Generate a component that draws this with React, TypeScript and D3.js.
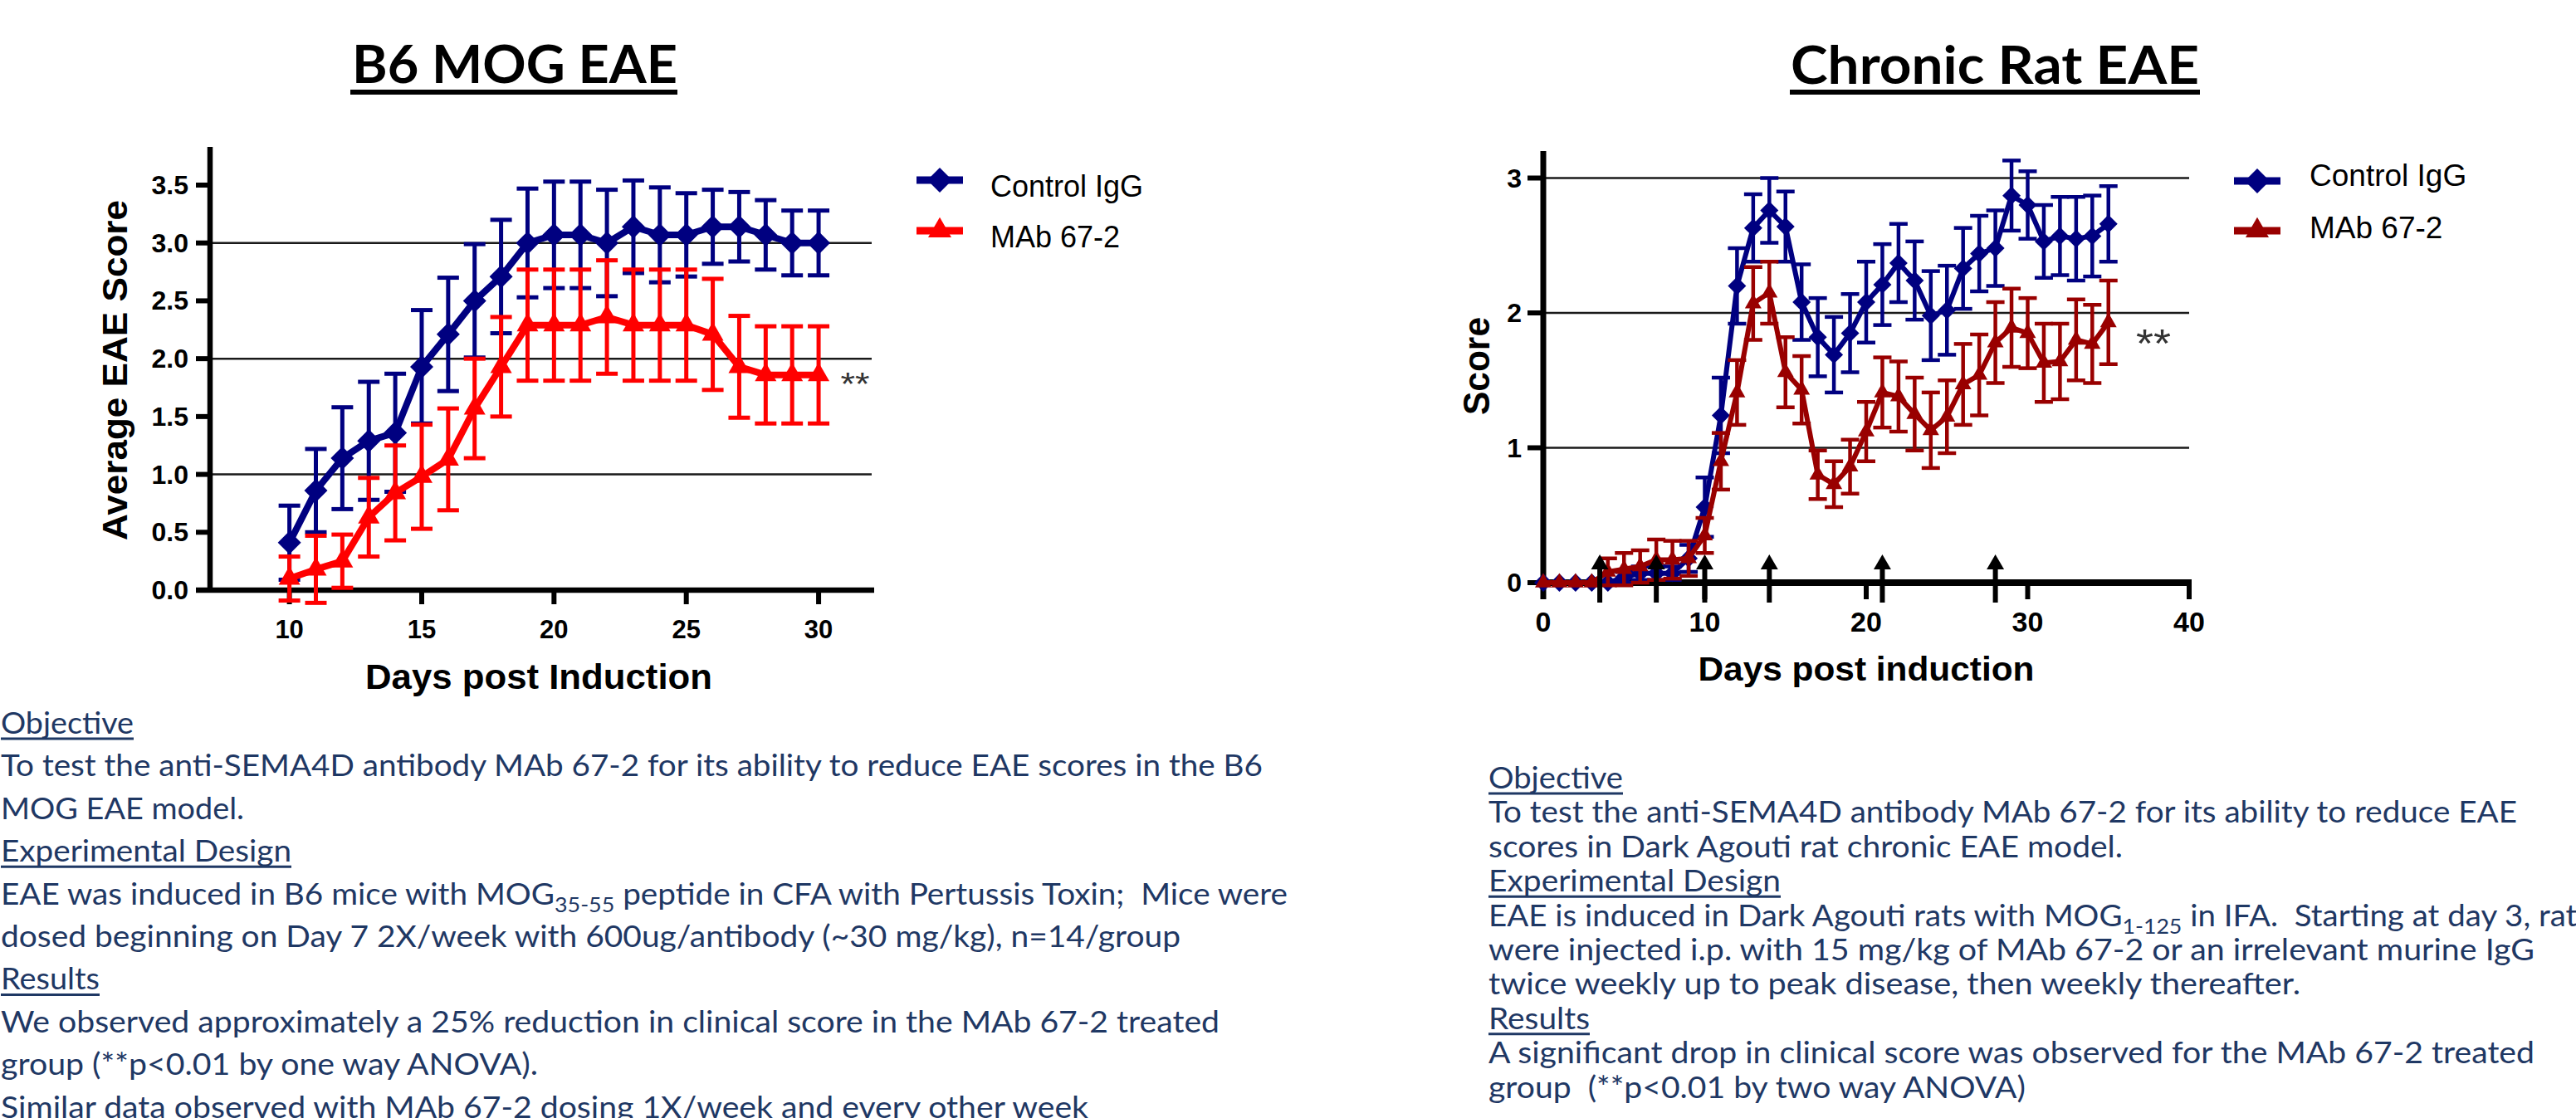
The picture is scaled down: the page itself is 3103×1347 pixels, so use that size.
import React from 'react';
import * as d3 from 'd3';

// ---- B6 MOG EAE (mouse) ----
const b6Days = [10, 11, 12, 13, 14, 15, 16, 17, 18, 19, 20, 21, 22, 23, 24, 25, 26, 27, 28, 29, 30];
const b6ControlMean = [0.41, 0.86, 1.14, 1.29, 1.36, 1.93, 2.21, 2.5, 2.71, 3.0, 3.07, 3.07, 3.0, 3.14, 3.07, 3.07, 3.14, 3.14, 3.07, 3.0, 3.0];
const b6ControlSem = [0.32, 0.36, 0.44, 0.51, 0.51, 0.49, 0.49, 0.49, 0.49, 0.47, 0.46, 0.46, 0.46, 0.4, 0.41, 0.36, 0.32, 0.3, 0.3, 0.28, 0.28];
const b6MabMean = [0.1, 0.18, 0.25, 0.63, 0.84, 0.98, 1.13, 1.57, 1.93, 2.29, 2.29, 2.29, 2.36, 2.29, 2.29, 2.29, 2.21, 1.93, 1.86, 1.86, 1.86];
const b6MabSem = [0.19, 0.29, 0.23, 0.34, 0.41, 0.45, 0.44, 0.43, 0.43, 0.48, 0.48, 0.48, 0.49, 0.48, 0.48, 0.48, 0.48, 0.44, 0.42, 0.42, 0.42];
const b6XTicks = [10, 15, 20, 25, 30];
const b6YTicks = [0, 0.5, 1, 1.5, 2, 2.5, 3, 3.5];
const b6Grid = [1, 2, 3];

// ---- Chronic rat EAE ----
const ratDays = [0, 1, 2, 3, 4, 5, 6, 7, 8, 9, 10, 11, 12, 13, 14, 15, 16, 17, 18, 19, 20, 21, 22, 23, 24, 25, 26, 27, 28, 29, 30, 31, 32, 33, 34, 35];
const ratControlMean = [0, 0, 0, 0, 0, 0.04, 0.07, 0.07, 0.07, 0.18, 0.56, 1.24, 2.2, 2.63, 2.76, 2.64, 2.08, 1.82, 1.69, 1.85, 2.08, 2.21, 2.37, 2.24, 1.98, 2.02, 2.33, 2.44, 2.48, 2.87, 2.8, 2.53, 2.57, 2.55, 2.57, 2.66];
const ratControlSem = [0, 0, 0, 0, 0, 0.04, 0.05, 0.05, 0.05, 0.1, 0.22, 0.28, 0.28, 0.25, 0.24, 0.26, 0.28, 0.29, 0.28, 0.29, 0.3, 0.3, 0.29, 0.29, 0.33, 0.33, 0.3, 0.28, 0.28, 0.26, 0.25, 0.27, 0.29, 0.31, 0.3, 0.28];
const ratMabMean = [0, 0, 0, 0, 0.08, 0.1, 0.12, 0.17, 0.17, 0.18, 0.35, 0.9, 1.41, 2.07, 2.15, 1.56, 1.43, 0.8, 0.73, 0.86, 1.12, 1.41, 1.38, 1.25, 1.13, 1.23, 1.47, 1.54, 1.78, 1.89, 1.85, 1.63, 1.64, 1.8, 1.77, 1.93];
const ratMabSem = [0, 0, 0, 0, 0.1, 0.12, 0.12, 0.15, 0.14, 0.13, 0.13, 0.21, 0.24, 0.27, 0.23, 0.26, 0.25, 0.18, 0.17, 0.2, 0.22, 0.26, 0.26, 0.27, 0.28, 0.27, 0.3, 0.3, 0.3, 0.29, 0.26, 0.29, 0.28, 0.3, 0.29, 0.31];
const ratXTicks = [0, 10, 20, 30, 40];
const ratYTicks = [0, 1, 2, 3];
const ratGrid = [1, 2, 3];
const ratDoseDays = [3.5, 7, 10, 14, 21, 28];

const seriesNames = ['Control IgG', 'MAb 67-2'];

// ---- notes under the charts ----
const headings = ['Objective', 'Experimental Design', 'Results'];
const leftNotes = [
  'Objective',
  'To test the anti-SEMA4D antibody MAb 67-2 for its ability to reduce EAE scores in the B6',
  'MOG EAE model.',
  'Experimental Design',
  'EAE was induced in B6 mice with MOG_{35-55} peptide in CFA with Pertussis Toxin;  Mice were',
  'dosed beginning on Day 7 2X/week with 600ug/antibody (~30 mg/kg), n=14/group',
  'Results',
  'We observed approximately a 25% reduction in clinical score in the MAb 67-2 treated',
  'group (**p<0.01 by one way ANOVA).',
  'Similar data observed with MAb 67-2 dosing 1X/week and every other week',
];
const rightNotes = [
  'Objective',
  'To test the anti-SEMA4D antibody MAb 67-2 for its ability to reduce EAE',
  'scores in Dark Agouti rat chronic EAE model.',
  'Experimental Design',
  'EAE is induced in Dark Agouti rats with MOG_{1-125} in IFA.  Starting at day 3, rats',
  'were injected i.p. with 15 mg/kg of MAb 67-2 or an irrelevant murine IgG',
  'twice weekly up to peak disease, then weekly thereafter.',
  'Results',
  'A significant drop in clinical score was observed for the MAb 67-2 treated',
  'group  (**p<0.01 by two way ANOVA)',
];
// measured line widths (px) so the text wraps like the slide
const leftNoteWidths = [160, 1520, 293, 350, 1550, 1421, 119, 1468, 647, 1310];
const rightNoteWidths = [162, 1239, 764, 352, 1328, 1260, 978, 122, 1260, 647];

const NAVY = '#000080';
const RED = '#ff0000';
const DARK_RED = '#990000';
const NOTE_BLUE = '#1f3864';
const CHART_FONT = 'Liberation Sans, Arial, sans-serif';
const NOTE_FONT = 'Lato, Calibri, sans-serif';

const fmt1 = d3.format('.1f');

function marker(shape, size) {
  const type = shape === 'diamond' ? d3.symbolSquare : d3.symbolTriangle;
  return d3.symbol().type(type).size(size)();
}

function Series({ days, mean, sem, x, y, color, shape, lineWidth, barWidth, capHalf, markerSize }) {
  const line = d3
    .line<number>()
    .x((d, i) => x(days[i]))
    .y(d => y(d));
  const sym = marker(shape, markerSize);
  const rot = shape === 'diamond' ? ' rotate(45)' : '';
  return (
    <g>
      {days.map((d, i) => {
        if (!sem[i]) return null;
        const cx = x(d);
        const top = y(mean[i] + sem[i]);
        const bot = y(mean[i] - sem[i]);
        return (
          <g key={d} stroke={color} strokeWidth={barWidth}>
            <line x1={cx} x2={cx} y1={top} y2={bot} />
            <line x1={cx - capHalf} x2={cx + capHalf} y1={top} y2={top} />
            <line x1={cx - capHalf} x2={cx + capHalf} y1={bot} y2={bot} />
          </g>
        );
      })}
      <path d={line(mean)} fill="none" stroke={color} strokeWidth={lineWidth} strokeLinejoin="round" />
      {days.map((d, i) => (
        <path key={d} d={sym} fill={color} transform={`translate(${x(d)},${y(mean[i])})${rot}`} />
      ))}
    </g>
  );
}

function LegendRow({ x, y, color, shape, size, label, textX, textY, fontSize }) {
  const rot = shape === 'diamond' ? ' rotate(45)' : '';
  return (
    <g>
      <line x1={x - 28} x2={x + 28} y1={y} y2={y} stroke={color} strokeWidth={9} />
      <path d={marker(shape, size)} fill={color} transform={`translate(${x},${y})${rot}`} />
      <text x={textX} y={textY} fontSize={fontSize} fontFamily={CHART_FONT} fill="#000">
        {label}
      </text>
    </g>
  );
}

// "MOG_{35-55}" -> MOG with a subscript
function noteSpans(line) {
  const m = line.match(/^(.*)_\{([^}]*)\}(.*)$/);
  if (!m) return line;
  return [
    <tspan key="a">{m[1]}</tspan>,
    <tspan key="b" dy={9} fontSize={25}>{m[2]}</tspan>,
    <tspan key="c" dy={-9}>{m[3]}</tspan>,
  ];
}

function Notes({ lines, widths, x, y0, step }) {
  return (
    <g fill={NOTE_BLUE} fontFamily={NOTE_FONT} fontSize={36} style={{ whiteSpace: 'pre' }}>
      {lines.map((line, i) => {
        const y = y0 + i * step;
        return (
          <g key={i}>
            <text x={x} y={y} xmlSpace="preserve" textLength={widths[i]} lengthAdjust="spacingAndGlyphs">
              {noteSpans(line)}
            </text>
            {headings.includes(line) && (
              <line x1={x} x2={x + widths[i]} y1={y + 6} y2={y + 6} stroke={NOTE_BLUE} strokeWidth={3} />
            )}
          </g>
        );
      })}
    </g>
  );
}

function B6Chart() {
  const x = d3.scaleLinear().domain([7, 32.1]).range([253, 1053]);
  const y = d3.scaleLinear().domain([0, 3.83]).range([711, 177]);
  const [x0, x1] = x.range();
  const [y0, yTop] = y.range();
  return (
    <g fontFamily={CHART_FONT}>
      <text x={620} y={100} textAnchor="middle" fontFamily={NOTE_FONT} fontWeight="bold" fontSize={64} textLength={392} lengthAdjust="spacingAndGlyphs">
        B6 MOG EAE
      </text>
      <line x1={422} x2={816} y1={111} y2={111} stroke="#000" strokeWidth={6} />

      {b6Grid.map(g => (
        <line key={g} x1={x0} x2={x1 - 3} y1={y(g)} y2={y(g)} stroke="#1a1a1a" strokeWidth={2.5} />
      ))}

      <line x1={x0} x2={x0} y1={yTop} y2={y0 + 3} stroke="#000" strokeWidth={6.5} />
      <line x1={x0 - 17} x2={x1} y1={y0} y2={y0} stroke="#000" strokeWidth={6.5} />
      {b6YTicks.map(t => (
        <g key={t}>
          <line x1={x0 - 17} x2={x0} y1={y(t)} y2={y(t)} stroke="#000" strokeWidth={6} />
          <text x={x0 - 26} y={y(t)} textAnchor="end" dominantBaseline="central" fontSize={32} fontWeight="bold">
            {fmt1(t)}
          </text>
        </g>
      ))}
      {b6XTicks.map(t => (
        <g key={t}>
          <line x1={x(t)} x2={x(t)} y1={y0} y2={y0 + 17} stroke="#000" strokeWidth={6} />
          <text x={x(t)} y={y0 + 47} textAnchor="middle" dominantBaseline="central" fontSize={31} fontWeight="bold">
            {t}
          </text>
        </g>
      ))}
      <text transform="translate(153,446) rotate(-90)" textAnchor="middle" fontSize={42} fontWeight="bold" textLength={410} lengthAdjust="spacingAndGlyphs">
        Average EAE Score
      </text>
      <text x={649} y={830} textAnchor="middle" fontSize={42} fontWeight="bold" textLength={418} lengthAdjust="spacingAndGlyphs">
        Days post Induction
      </text>

      <Series days={b6Days} mean={b6ControlMean} sem={b6ControlSem} x={x} y={y} color={NAVY} shape="diamond" lineWidth={8} barWidth={5} capHalf={13} markerSize={392} />
      <Series days={b6Days} mean={b6MabMean} sem={b6MabSem} x={x} y={y} color={RED} shape="triangle" lineWidth={8} barWidth={5} capHalf={13} markerSize={293} />

      <text x={1030} y={456 + 20} textAnchor="middle" fontSize={38} fill="#333" textLength={35} lengthAdjust="spacingAndGlyphs">
        **
      </text>

      <LegendRow x={1132} y={217} color={NAVY} shape="diamond" size={450} label={seriesNames[0]} textX={1193} textY={237} fontSize={36} />
      <LegendRow x={1132} y={278} color={RED} shape="triangle" size={340} label={seriesNames[1]} textX={1193} textY={298} fontSize={36} />
    </g>
  );
}

function RatChart() {
  const x = d3.scaleLinear().domain([0, 40]).range([1859, 2637]);
  const y = d3.scaleLinear().domain([0, 3.2]).range([702, 182]);
  const [x0, x1] = x.range();
  const [y0, yTop] = y.range();
  const head = d3.symbol().type(d3.symbolTriangle).size(190)();
  return (
    <g fontFamily={CHART_FONT}>
      <text x={2403} y={101} textAnchor="middle" fontFamily={NOTE_FONT} fontWeight="bold" fontSize={64} textLength={492} lengthAdjust="spacingAndGlyphs">
        Chronic Rat EAE
      </text>
      <line x1={2156} x2={2650} y1={111} y2={111} stroke="#000" strokeWidth={6} />

      {ratGrid.map(g => (
        <line key={g} x1={x0} x2={x1} y1={y(g)} y2={y(g)} stroke="#1a1a1a" strokeWidth={2.5} />
      ))}

      <line x1={x0} x2={x0} y1={yTop} y2={y0 + 20} stroke="#000" strokeWidth={7} />
      <line x1={x0} x2={x1 + 3} y1={y0} y2={y0} stroke="#000" strokeWidth={8} />
      {ratYTicks.map(t => (
        <g key={t}>
          <line x1={x0 - 19} x2={x0} y1={y(t)} y2={y(t)} stroke="#000" strokeWidth={6} />
          <text x={x0 - 26} y={y(t)} textAnchor="end" dominantBaseline="central" fontSize={32} fontWeight="bold">
            {t}
          </text>
        </g>
      ))}
      {ratXTicks.map(t => (
        <g key={t}>
          <line x1={x(t)} x2={x(t)} y1={y0} y2={y0 + 20} stroke="#000" strokeWidth={6} />
          <text x={x(t)} y={y0 + 47} textAnchor="middle" dominantBaseline="central" fontSize={34} fontWeight="bold">
            {t}
          </text>
        </g>
      ))}
      <text transform="translate(1794,441) rotate(-90)" textAnchor="middle" fontSize={44} fontWeight="bold" textLength={118} lengthAdjust="spacingAndGlyphs">
        Score
      </text>
      <text x={2248} y={820} textAnchor="middle" fontSize={40} fontWeight="bold" textLength={405} lengthAdjust="spacingAndGlyphs">
        Days post induction
      </text>

      <Series days={ratDays} mean={ratControlMean} sem={ratControlSem} x={x} y={y} color={NAVY} shape="diamond" lineWidth={6} barWidth={4.5} capHalf={11} markerSize={242} />
      <Series days={ratDays} mean={ratMabMean} sem={ratMabSem} x={x} y={y} color={DARK_RED} shape="triangle" lineWidth={6} barWidth={4.5} capHalf={11} markerSize={173} />

      {ratDoseDays.map(d => (
        <g key={d}>
          <line x1={x(d)} x2={x(d)} y1={y0 + 24} y2={y0 - 18} stroke="#000" strokeWidth={6} />
          <path d={head} fill="#000" transform={`translate(${x(d)},${y0 - 22})`} />
        </g>
      ))}

      <text x={2594} y={404 + 26} textAnchor="middle" fontSize={48} fill="#333" textLength={42} lengthAdjust="spacingAndGlyphs">
        **
      </text>

      <LegendRow x={2719} y={218} color={NAVY} shape="diamond" size={450} label={seriesNames[0]} textX={2782} textY={224} fontSize={37} />
      <LegendRow x={2719} y={278} color={DARK_RED} shape="triangle" size={340} label={seriesNames[1]} textX={2782} textY={287} fontSize={37} />
    </g>
  );
}

export default function App() {
  return (
    <div style={{ position: 'absolute', left: 0, top: 0 }}>
      <svg width={3103} height={1347} style={{ display: 'block', background: '#fff' }}>
        <B6Chart />
        <RatChart />
        <Notes lines={leftNotes} widths={leftNoteWidths} x={1} y0={884} step={51.4} />
        <Notes lines={rightNotes} widths={rightNoteWidths} x={1793} y0={950} step={41.4} />
      </svg>
    </div>
  );
}
